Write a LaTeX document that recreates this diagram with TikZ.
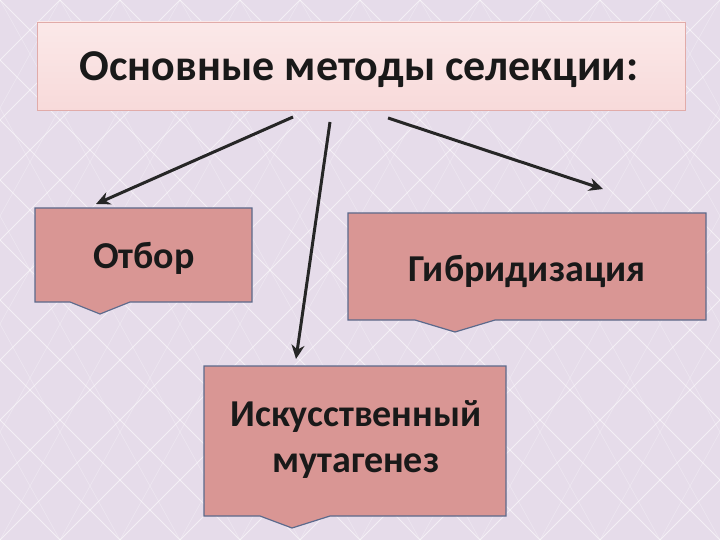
\documentclass[tikz,border=0pt]{standalone}
\usepackage{fontspec}
\usetikzlibrary{arrows.meta}
\setmainfont{Carlito}
\begin{document}
\begin{tikzpicture}[x=1pt,y=-1pt,
  boxst/.style={draw=boxline,line width=1.2pt,fill=boxfill},
  lbl/.style={font=\bfseries\fontsize{38}{46}\selectfont,align=center,text=black!90},
  arr/.style={-{Stealth[length=14pt,width=13pt]},line width=3pt,draw=black!85}]
\definecolor{bg}{HTML}{E6DCEA}
\definecolor{boxfill}{HTML}{D99694}
\definecolor{boxline}{HTML}{5C6A8C}
\definecolor{titfill}{HTML}{F8DADA}
\useasboundingbox (0,0) rectangle (720,540);
\fill[bg] (0,0) rectangle (720,540);
\begin{scope}
\clip (0,0) rectangle (720,540);
\foreach \i in {-600,-540,...,720}{
  \draw[white,opacity=0.55,line width=0.8pt] (\i,0) -- (\i+540,540);
  \draw[white,opacity=0.55,line width=0.8pt] (\i+540,0) -- (\i,540);
  \draw[white,opacity=0.3,line width=0.6pt] (\i,0) -- (\i+300,540);
  \draw[white,opacity=0.3,line width=0.6pt] (\i+300,0) -- (\i,540);
}
\end{scope}
% title
\draw[draw=boxfill!80,line width=0.8pt,top color=titfill!60,bottom color=titfill] (37,22) rectangle (685,110);
\node[font=\bfseries\fontsize{44}{52}\selectfont,text=black!90] (title) at (359,70) {Основные методы селекции:};
% boxes
\draw[boxst] (35,208) -- (252,208) -- (252,302) -- (130,302) -- (100,314) -- (70,302) -- (35,302) -- cycle;
\node[lbl] (otb) at (144,258) {Отбор};
\draw[boxst] (348,213) -- (706,213) -- (706,320) -- (495,320) -- (455,332) -- (415,320) -- (348,320) -- cycle;
\node[lbl] (gib) at (527,271) {Гибридизация};
\draw[boxst] (204,366) -- (506,366) -- (506,516) -- (330,516) -- (292,528) -- (260,516) -- (204,516) -- cycle;
\node[lbl] (mut) at (356,440) {Искусственный\\мутагенез};
% arrows
\coordinate (a1s) at (293,117); \coordinate (a1e) at (96,204);
\coordinate (a2s) at (330,122); \coordinate (a2e) at (296,359);
\coordinate (a3s) at (388,118); \coordinate (a3e) at (603,189);
\draw[arr] (a1s) -- (a1e);
\draw[arr] (a2s) -- (a2e);
\draw[arr] (a3s) -- (a3e);
\end{tikzpicture}
\end{document}
